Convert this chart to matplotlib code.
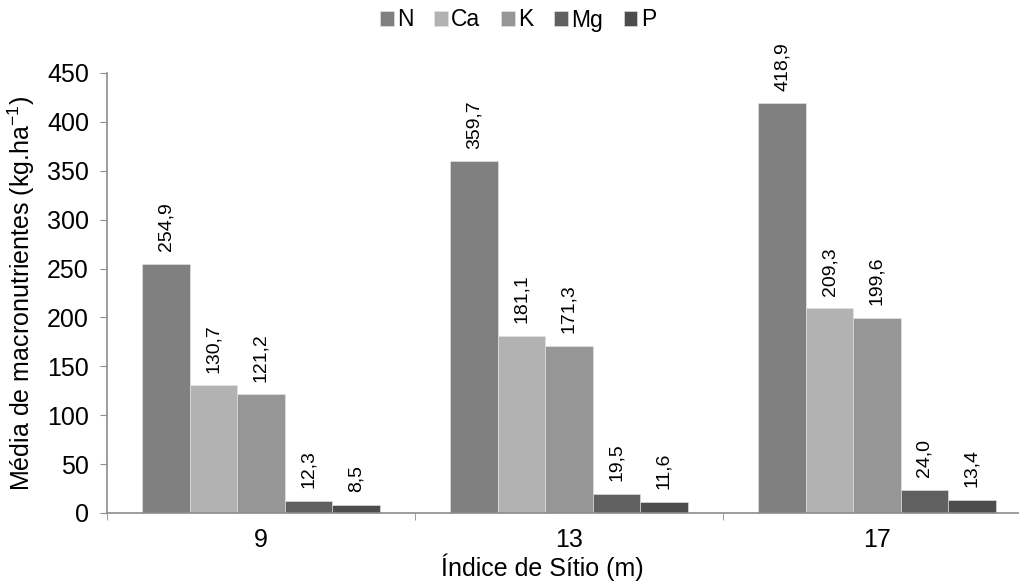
import matplotlib
matplotlib.use("Agg")
import matplotlib.pyplot as plt
import numpy as np

plt.rcParams['font.family'] = ['Liberation Sans', 'DejaVu Sans']
plt.rcParams['mathtext.fontset'] = 'custom'
plt.rcParams['mathtext.rm'] = 'Liberation Sans'

sites = ["9", "13", "17"]
nutrients = ["N", "Ca", "K", "Mg", "P"]
N = [254.9, 359.7, 418.9]
Ca = [130.7, 181.1, 209.3]
K = [121.2, 171.3, 199.6]
Mg = [12.3, 19.5, 24.0]
P = [8.5, 11.6, 13.4]
series = [N, Ca, K, Mg, P]
colors = ["#808080", "#b2b2b2", "#969696", "#606060", "#4d4d4d"]

W, H = 1020, 586
fig = plt.figure(figsize=(W / 100, H / 100), dpi=100)
# plot area runs past the right edge of the canvas
ax_left, ax_right, ax_top, ax_bottom = 107, 1031, 73, 513
ax = fig.add_axes([ax_left / W, 1 - ax_bottom / H, (ax_right - ax_left) / W,
                   (ax_bottom - ax_top) / H])

x = np.arange(len(sites))
bw = 0.154
axis_col = "#8c8c8c"
for i, (name, vals, c) in enumerate(zip(nutrients, series, colors)):
    pos = x + (i - 2) * bw
    ax.bar(pos, vals, width=bw, color=c, label=name, edgecolor="#e8e8e8", linewidth=0.4)
    for p, v in zip(pos, vals):
        ax.annotate(f"{v:.1f}".replace(".", ","), (p, v), xytext=(0, 9),
                    textcoords="offset points", rotation=90, ha="center",
                    va="bottom", fontsize=14)

ax.set_xlim(-0.5, 2.5)
ax.set_ylim(0, 450)
ax.set_yticks(np.arange(0, 451, 50))
ax.set_xticks(x)
ax.set_xticklabels(sites, fontsize=18)
ax.set_xticks([-0.5, 0.5, 1.5, 2.5], minor=True)
ax.tick_params(axis="x", which="major", length=0, pad=11)
ax.tick_params(axis="x", which="minor", length=5, color=axis_col, direction="out")
ax.tick_params(axis="y", length=5, color=axis_col, labelsize=18, pad=8)
for s in ["top", "right"]:
    ax.spines[s].set_visible(False)
for s in ["left", "bottom"]:
    ax.spines[s].set_color(axis_col)
    ax.spines[s].set_linewidth(1.2)

ax.set_ylabel(r"Média de macronutrientes (kg.ha$^{\mathregular{-1}}$)", fontsize=18, labelpad=7)
fig.text(542 / W, 1 - 567 / H, "Índice de Sítio (m)", fontsize=18,
         ha="center", va="center")

ax.legend(loc="center", bbox_to_anchor=(518 / W, 1 - 20 / H), bbox_transform=fig.transFigure,
          ncol=5, frameon=False, fontsize=16.5, handlelength=0.6, handleheight=0.6,
          handletextpad=0.15, columnspacing=0.9, borderpad=0)

fig.savefig("out.png", dpi=100)
